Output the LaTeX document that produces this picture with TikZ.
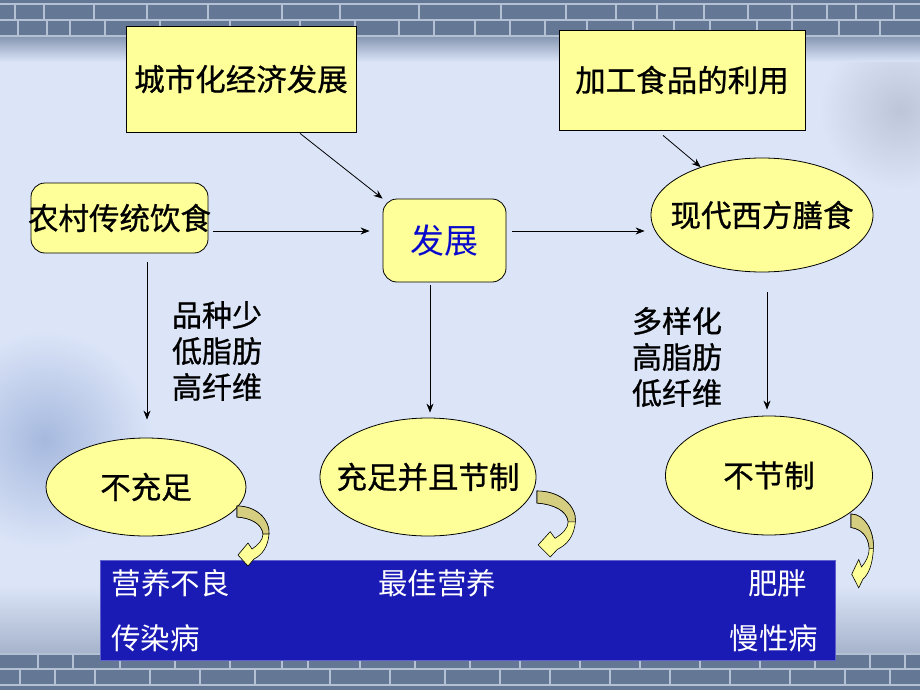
\documentclass[tikz,border=0pt]{standalone}
\usepackage{fontspec}
\newfontfamily\cjk[FakeBold=0.8]{Noto Sans CJK SC}
\newfontfamily\cjkw{Noto Sans CJK SC}
\usetikzlibrary{arrows.meta,shapes.geometric,calc}
\definecolor{bgc}{HTML}{DCE5F8}
\definecolor{brick}{HTML}{647896}
\definecolor{grout}{HTML}{B4C0D4}
\definecolor{yel}{HTML}{FFFF99}
\definecolor{khaki}{HTML}{D5CD80}
\definecolor{navy}{HTML}{1A1AB4}
\definecolor{devblue}{HTML}{0A0ACC}
\definecolor{smudge}{HTML}{A6B9DE}
\definecolor{swirl}{HTML}{BCC6D8}
\tikzset{
  ybox/.style={draw=black, fill=yel, line width=0.8pt, inner sep=0pt, font=\cjk\fontsize{30.5}{30.5}\selectfont},
  rbox/.style={ybox, rounded corners=14pt},
  ell/.style={ybox, ellipse},
  lbl/.style={font=\cjk\fontsize{30}{36}\selectfont, align=left, inner sep=0pt},
  wtxt/.style={text=white, font=\cjkw\fontsize{29.5}{29.5}\selectfont, inner sep=0pt},
  arr/.style={draw=black, line width=0.8pt, -{Stealth[length=9pt,width=7pt]}},
  groutline/.style={draw=grout, line width=1.2pt},
  curv/.pic={
    \path[fill=yel, draw=black, line width=0.6pt]
      (0,0) .. controls (20,0) and (33,14) .. (32,28)
      .. controls (31,41) and (25,49) .. (17,53)
      -- (11,60) -- (1,49) -- (11,37) -- (15,43)
      .. controls (21,39) and (26,34) .. (26,28)
      .. controls (25,18) and (14,12) .. (0,11) -- cycle;
    \path[fill=khaki, draw=black, line width=0.6pt]
      (0,0) .. controls (20,0) and (33,14) .. (32,28)
      -- (26,28) .. controls (25,18) and (14,12) .. (0,11) -- cycle;
  }
}
\begin{document}
\begin{tikzpicture}[x=1pt,y=-1pt]
\useasboundingbox (0,0) rectangle (920,690);
% background
\fill[bgc] (0,0) rectangle (920,690);
\shade[inner color=smudge, outer color=bgc] (45,440) circle [radius=110];
\shade[inner color=swirl, outer color=bgc] (900,110) circle [radius=80];
\shade[top color=bgc, bottom color=brick!45!bgc] (0,585) rectangle (920,653);
\fill[brick] (0,0) rectangle (920,37);
\shade[top color=brick!70!bgc, bottom color=bgc] (0,37) rectangle (920,62);
\foreach \yy in {4,20,36} \draw[groutline] (0,\yy) -- (920,\yy);
\foreach \xx in {15,44,94,147,208,282,340,419,501,566,616,657,704,748,792,827,856,894}
  \draw[groutline] (\xx,4) -- (\xx,20);
\foreach \xx in {18,47,70,105,160,230,300,355,399,434,475,510,545,587,633,674,710,757,792,839,880}
  \draw[groutline] (\xx,20) -- (\xx,36);
\fill[brick] (0,653) rectangle (920,690);
\foreach \yy in {654,669,685} \draw[groutline] (0,\yy) -- (920,\yy);
\foreach \xx in {38,73,120,175,230,282,308,360,415,470,520,580,640,700,760,815,870,905}
  \draw[groutline] (\xx,654) -- (\xx,669);
\foreach \xx in {20,55,95,150,200,255,330,390,445,500,550,610,670,730,790,845,890}
  \draw[groutline] (\xx,669) -- (\xx,685);

% boxes
\node[ybox, minimum width=230, minimum height=106] (city) at (241,79) {城市化经济发展};
\node[ybox, minimum width=246, minimum height=100] (food) at (682,80) {加工食品的利用};
\node[rbox, minimum width=177, minimum height=70] (rural) at (119.5,218) {\makebox[0pt]{农村传统饮食}};
\node[rbox, minimum width=123, minimum height=83, font=\cjkw\fontsize{34}{34}\selectfont, text=devblue] (dev) at (444.5,240.5) {发展};
\node[ell, minimum width=222, minimum height=114] (west) at (762,215) {\makebox[0pt]{现代西方膳食}};
\node[ell, minimum width=200, minimum height=98] (nc) at (146,487) {\makebox[0pt]{不充足}};
\node[ell, minimum width=216, minimum height=118] (mid) at (428,477) {\makebox[0pt]{充足并且节制}};
\node[ell, minimum width=207, minimum height=119] (bad) at (769,475.5) {\makebox[0pt]{不节制}};

% labels
\node[lbl] (l1) at (217,351) {品种少\\低脂肪\\高纤维};
\node[lbl] (l2) at (677,357) {多样化\\高脂肪\\低纤维};

% outcome box
\node[fill=navy, draw=navy!70!white, line width=0.6pt, minimum width=735, minimum height=100, inner sep=0pt] (out) at (467.5,610) {};
\node[wtxt] (o1) at (170.5,583) {营养不良};
\node[wtxt] (o2) at (437,583) {最佳营养};
\node[wtxt] (o3) at (777.5,583) {肥胖};
\node[wtxt] (o4) at (155.5,638) {传染病};
\node[wtxt] (o5) at (774,638) {慢性病};

% connectors
\draw[arr] ($(city.south)+(59,1)$) -- (dev.north west);
\draw[arr] ($(food.south)+(-19,5)$) -- (west.142);
\draw[arr] ($(rural.east)+(5,13)$) -- ($(dev.west)+(-13,-9.5)$);
\draw[arr] ($(dev.east)+(6,-9.5)$) -- ($(west.west)+(-6,16)$);
\draw[arr] ($(rural.south)+(27.5,9)$) -- ($(nc.north)+(1,-18)$);
\draw[arr] ($(dev.south)+(-14.5,3)$) -- ($(mid.north)+(2,-5)$);
\draw[arr] ($(west.south)+(5,20)$) -- ($(bad.north)+(-2,-6)$);

% curved block arrows
\pic at (237,506) {curv};
\pic[xscale=1.2, yscale=1.1] at (537,491) {curv};
\pic[xscale=0.7, yscale=1.23] at (851,514) {curv};
\end{tikzpicture}
\end{document}
